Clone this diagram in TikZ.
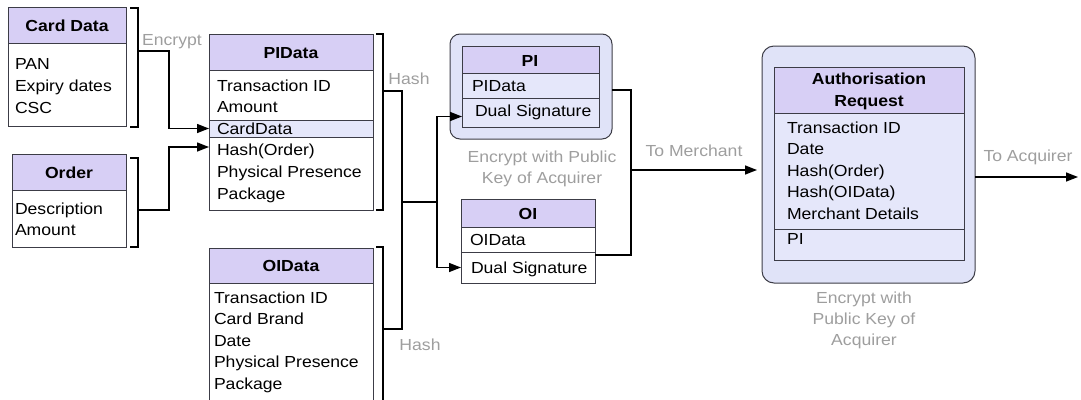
\documentclass[tikz,border=0pt]{standalone}
\usepackage{fontspec}
\setmainfont{Liberation Sans}[FakeStretch=1.1]
\usetikzlibrary{arrows.meta,calc}
\definecolor{hdrfill}{RGB}{215,207,245}
\definecolor{wrapfill}{RGB}{224,227,248}
\definecolor{rowfill}{RGB}{229,231,250}
\definecolor{edge}{RGB}{60,60,70}
\definecolor{notegray}{RGB}{158,158,158}
\begin{document}
\begin{tikzpicture}[x=1pt,y=-1pt,
  every node/.style={font=\fontsize{16}{19}\selectfont, inner sep=0pt, outer sep=0pt},
  tbl/.style={draw=edge, line width=1pt, anchor=north west},
  hdr/.style={draw=edge, line width=1pt, fill=hdrfill, anchor=north west},
  wrap/.style={draw=edge, line width=1pt, fill=wrapfill, rounded corners=10pt, anchor=north west},
  item/.style={anchor=base west},
  title/.style={anchor=base, font=\fontsize{16}{19}\selectfont\bfseries},
  note/.style={anchor=base, text=notegray},
  link/.style={draw=black, line width=1.4pt},
  arr/.style={link, -{Triangle[length=12pt,width=9pt]}},
  brk/.style={draw=black, line width=1.2pt}]
\useasboundingbox (0,0) rectangle (1081,399);
\clip (0,0) rectangle (1081,399);

% ---------- Card Data ----------
\node[tbl, fill=white, minimum width=118, minimum height=119] (card) at (8,7) {};
\node[hdr, minimum width=118, minimum height=36] (cardH) at (8,7) {};
\node[title] (cardT) at (67,31) {Card Data};
\foreach \t [count=\i] in {PAN,Expiry dates,CSC}
  \node[item] (card-\i) at (15,{69+22*(\i-1)}) {\t};
\draw[brk] (130,8) -- (138,8) -- (138,127) -- (130,127);
\coordinate (cardbr) at (138,51);

% ---------- Order ----------
\node[tbl, fill=white, minimum width=114, minimum height=93] (order) at (12,154) {};
\node[hdr, minimum width=114, minimum height=36] (orderH) at (12,154) {};
\node[title] (orderT) at (69,178) {Order};
\foreach \t [count=\i] in {Description,Amount}
  \node[item] (order-\i) at (15,{214+21*(\i-1)}) {\t};
\draw[brk] (130,158) -- (138,158) -- (138,247) -- (130,247);
\coordinate (orderbr) at (138,210);

% ---------- PIData ----------
\node[tbl, fill=white, minimum width=164, minimum height=176] (pidata) at (209,34) {};
\node[hdr, minimum width=164, minimum height=36] (pidataH) at (209,34) {};
\node[tbl, fill=rowfill, minimum width=164, minimum height=17] (pirow) at (209,120) {};
\node[title] (pidataT) at (291,58) {PIData};
\foreach \t [count=\i] in {Transaction ID,Amount,CardData,Hash(Order),Physical Presence,Package}
  \node[item] (pidata-\i) at (217,{91+21.6*(\i-1)}) {\t};
\draw[brk] (376,34) -- (383,34) -- (383,210) -- (376,210);
\coordinate (pibr) at (383,91);
\coordinate (pihash) at (209,147);

% ---------- OIData ----------
\node[tbl, fill=white, minimum width=164, minimum height=170] (oidata) at (209,248) {};
\node[hdr, minimum width=164, minimum height=35] (oidataH) at (209,248) {};
\node[title] (oidataT) at (291,271) {OIData};
\foreach \t [count=\i] in {Transaction ID,Card Brand,Date,Physical Presence,Package}
  \node[item] (oidata-\i) at (214,{303+21.6*(\i-1)}) {\t};
\draw[brk] (376,247) -- (383,247) -- (383,410);
\coordinate (oibr) at (383,329);

% ---------- PI (encrypted wrapper) ----------
\node[wrap, minimum width=162, minimum height=105] (piwrap) at (450,34) {};
\node[tbl, fill=rowfill, minimum width=137, minimum height=81] (pi) at (462,46) {};
\node[hdr, minimum width=137, minimum height=27] (piH) at (462,46) {};
\node[tbl, fill=rowfill, minimum width=137, minimum height=29] (pids) at (462,98) {};
\node[title] (piT) at (530,66) {PI};
\node[item] (pi-1) at (472,91) {PIData};
\node[item] (pi-2) at (475,116) {Dual Signature};

% ---------- OI ----------
\node[tbl, fill=white, minimum width=134, minimum height=84] (oi) at (461,199) {};
\node[hdr, minimum width=134, minimum height=28] (oiH) at (461,199) {};
\node[tbl, fill=white, minimum width=134, minimum height=31] (oids) at (461,252) {};
\node[title] (oiT) at (528,219) {OI};
\node[item] (oi-1) at (470,245) {OIData};
\node[item] (oi-2) at (471,273) {Dual Signature};

% ---------- Authorisation Request (encrypted wrapper) ----------
\node[wrap, rounded corners=12pt, minimum width=213, minimum height=237] (authwrap) at (762,46) {};
\node[tbl, fill=rowfill, minimum width=190, minimum height=193] (auth) at (774,67) {};
\node[hdr, minimum width=190, minimum height=46] (authH) at (774,67) {};
\node[tbl, fill=rowfill, minimum width=190, minimum height=31] (authpi) at (774,229) {};
\node[title] (authT1) at (869,84) {Authorisation};
\node[title] (authT2) at (869,106) {Request};
\foreach \t [count=\i] in {Transaction ID,Date,Hash(Order),Hash(OIData),Merchant Details}
  \node[item] (auth-\i) at (787,{133+21.6*(\i-1)}) {\t};
\node[item] (auth-pi) at (787,244) {PI};

% ---------- connectors ----------
\coordinate (jx) at (169,0);
\draw[arr] (cardbr) -- (cardbr -| jx) |- (pirow.west);
\draw[arr] (orderbr) -- (orderbr -| jx) |- (pihash);

\coordinate (trunk) at (402,202);
\coordinate (fork) at (437,202);
\draw[link] (pibr) -| (trunk) |- (oibr);
\draw[link] (trunk) -- (fork);
\draw[arr] (fork) |- ([yshift=-4pt]pids.west);
\draw[arr] (fork) |- (oids.west);

\coordinate (pisrc) at (612,90);
\coordinate (oisrc) at (595,255);
\coordinate (mx) at (631,170);
\draw[link] (pisrc) -| (mx) |- (oisrc);
\draw[arr] (mx) -- ($(mx -| authwrap.west)+(-5,0)$);

\coordinate (acq) at (1078,177);
\draw[arr] (authwrap.east |- acq) -- (acq);

% ---------- labels ----------
\node[note] (encL) at (172,45) {Encrypt};
\node[note] (hash1) at (409,84) {Hash};
\node[note] (hash2) at (420,350) {Hash};
\node[note] (pienc1) at (542,162) {Encrypt with Public};
\node[note] (pienc2) at (542,183) {Key of Acquirer};
\node[note] (tomer) at (694,156) {To Merchant};
\node[note] (toacq) at (1028,161) {To Acquirer};
\node[note] (arenc1) at (864,303) {Encrypt with};
\node[note] (arenc2) at (864,324) {Public Key of};
\node[note] (arenc3) at (864,345) {Acquirer};
\end{tikzpicture}
\end{document}
